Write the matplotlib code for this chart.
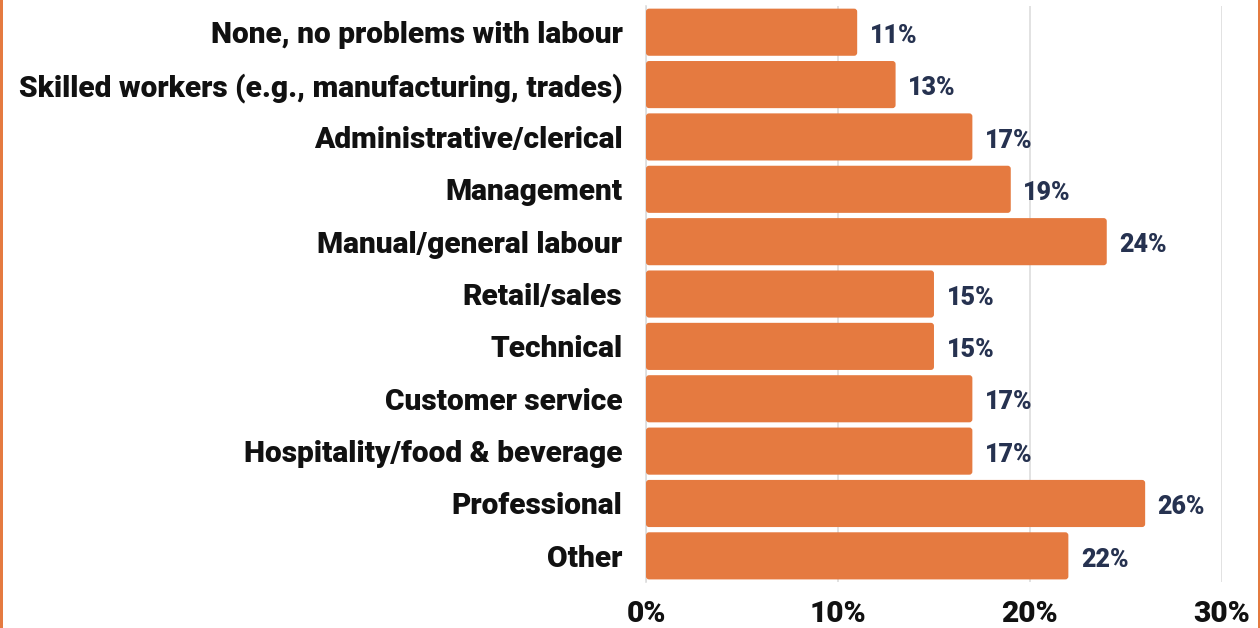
import matplotlib.pyplot as plt
from matplotlib.patches import FancyBboxPatch, Rectangle
from matplotlib.ticker import FuncFormatter

# Labour shortage categories and share of respondents (%)
categories = [
    "None, no problems with labour",
    "Skilled workers (e.g., manufacturing, trades)",
    "Administrative/clerical",
    "Management",
    "Manual/general labour",
    "Retail/sales",
    "Technical",
    "Customer service",
    "Hospitality/food & beverage",
    "Professional",
    "Other",
]
shares = [11, 13, 17, 19, 24, 15, 15, 17, 17, 26, 22]
x_ticks = [0, 10, 20, 30]

bar_color = "#E57A40"
value_color = "#263250"

plt.rcParams["font.family"] = ["Roboto", "DejaVu Sans"]

fig = plt.figure(figsize=(12.6, 6.28), dpi=100)
ax = fig.add_axes([0.5127, 0.0732, 0.4571, 0.9172])

y = list(range(len(categories)))
bars = ax.barh(y, shares, height=0.9, color=bar_color)

# swap the plain bars for ones with softly rounded corners
for b in bars:
    b.set_visible(False)
    patch = FancyBboxPatch(
        (b.get_x(), b.get_y()), b.get_width(), b.get_height(),
        boxstyle="round,pad=0,rounding_size=0.16",
        mutation_aspect=0.36,
        facecolor=bar_color, edgecolor="none", zorder=3,
    )
    ax.add_patch(patch)

for yi, v in zip(y, shares):
    ax.text(v + 0.65, yi + 0.07, f"{v}%", va="center", ha="left",
            fontsize=18, fontweight="black", color=value_color)

ax.set_xlim(0, 30)
ax.set_ylim(len(categories) - 0.5, -0.5)
ax.set_yticks(y)
ax.set_yticklabels(categories, fontsize=21.5, fontweight="black", color="#111111")
ax.set_xticks(x_ticks)
ax.xaxis.set_major_formatter(FuncFormatter(lambda v, p: f"{v:.0f}%"))
for lab in ax.get_xticklabels():
    lab.set_fontsize(21.5)
    lab.set_fontweight("black")
    lab.set_color("#111111")
ax.tick_params(axis="both", length=0)
ax.tick_params(axis="y", pad=17)
ax.tick_params(axis="x", pad=13)

ax.grid(axis="x", color="#DDDDDD", linewidth=1.2, zorder=0)
ax.set_axisbelow(True)
for side in ["top", "right", "bottom"]:
    ax.spines[side].set_visible(False)
ax.spines["left"].set_color("#DDDDDD")
ax.spines["left"].set_linewidth(1.2)

# orange frame strips on both sides
fig.add_artist(Rectangle((0, 0), 2.5 / 1260, 1, transform=fig.transFigure,
                         facecolor=bar_color, edgecolor="none"))
fig.add_artist(Rectangle((1 - 2.5 / 1260, 0), 2.5 / 1260, 1, transform=fig.transFigure,
                         facecolor=bar_color, edgecolor="none"))

fig.savefig("out.png", dpi=100, facecolor="white")
